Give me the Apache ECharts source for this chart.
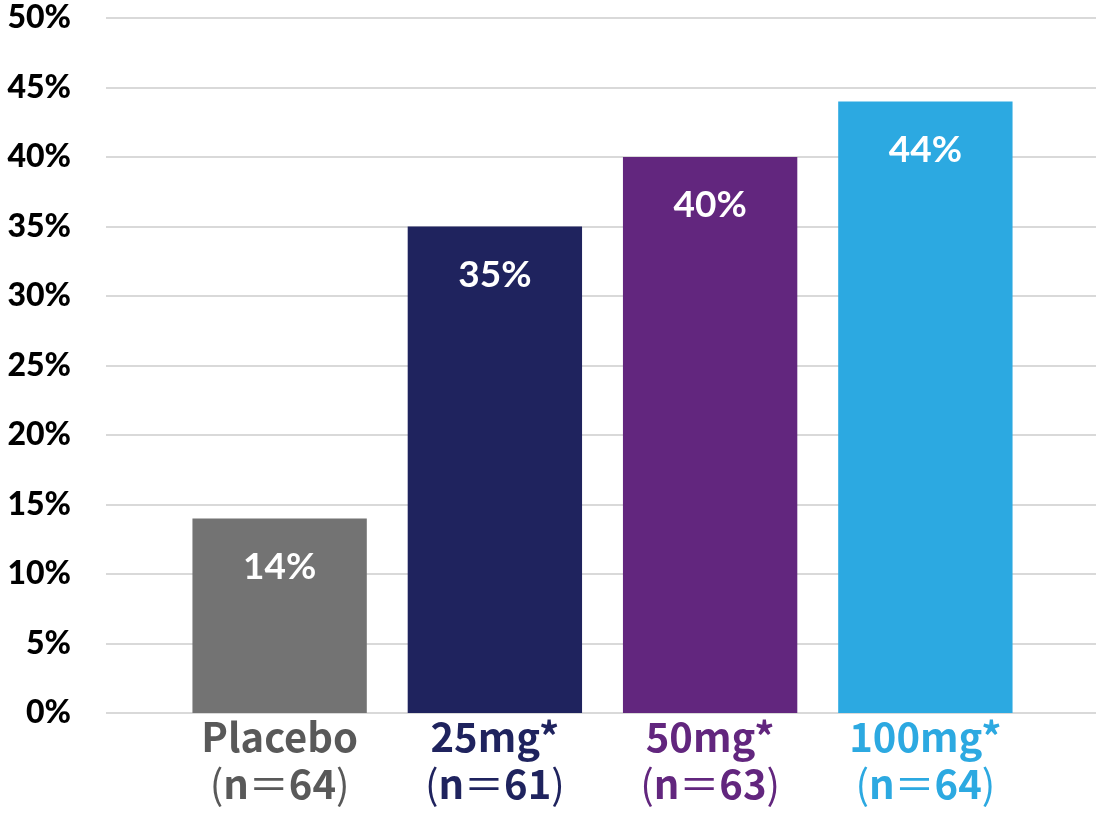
<!DOCTYPE html>
<html>
<head>
<meta charset="utf-8">
<script src="https://cdn.jsdelivr.net/npm/echarts@6/dist/echarts.min.js"></script>
<style>
  html, body { margin: 0; padding: 0; background: #fff; }
  #chart { width: 1096px; height: 813px; }
</style>
</head>
<body>
<div id="chart"></div>
<script>
// Dose groups and their response rates (%)
const groups = ['Placebo', '25mg*', '50mg*', '100mg*'];
const groupSizes = ['64', '61', '63', '64'];
const rates = [14, 35, 40, 44];
const barColors = ['#737373', '#1F235E', '#62267E', '#2CA9E1'];
const labelColors = ['#595959', '#1F235E', '#62267E', '#2CA9E1'];
const yTicks = { min: 0, max: 50, interval: 5 };

const chart = echarts.init(document.getElementById('chart'));

// Category label: bold name and count, lighter brackets and equals sign
const rich = {};
labelColors.forEach((c, i) => {
  rich['b' + i] = { color: c, fontFamily: 'Noto Sans CJK JP', fontWeight: 'bold', fontSize: 40, lineHeight: 47 };
  rich['p' + i] = { color: c, fontFamily: 'Noto Sans CJK JP', fontWeight: 'normal', fontSize: 40, lineHeight: 47 };
});
const labelFor = (name) => {
  const i = groups.indexOf(name);
  return `{b${i}|${name}}\n{p${i}|(}{b${i}|n}{p${i}|＝}{b${i}|${groupSizes[i]}}{p${i}|)}`;
};

chart.setOption({
  animation: false,
  grid: [
    { left: 106, right: 0, top: 18, bottom: 100 },
    { left: 172, right: 63, top: 18, bottom: 100 }
  ],
  xAxis: [
    { gridIndex: 0, type: 'value', show: false, min: 0, max: 1 },
    {
      gridIndex: 1, type: 'category', data: groups,
      axisLine: { show: false }, axisTick: { show: false },
      axisLabel: {
        interval: 0,
        margin: 0,
        formatter: labelFor,
        rich: rich
      }
    }
  ],
  yAxis: [
    {
      gridIndex: 0, type: 'value', min: yTicks.min, max: yTicks.max, interval: yTicks.interval,
      axisLine: { show: false }, axisTick: { show: false },
      splitLine: { lineStyle: { color: '#D9D9D9', width: 2 } },
      axisLabel: {
        margin: 35,
        formatter: '{value}%',
        fontFamily: 'Lato', fontWeight: 900, fontSize: 32, color: '#000'
      }
    },
    {
      gridIndex: 1, type: 'value', min: yTicks.min, max: yTicks.max, interval: yTicks.interval,
      show: false
    }
  ],
  series: [{
    type: 'bar',
    xAxisIndex: 1, yAxisIndex: 1,
    data: rates.map((v, i) => ({ value: v, itemStyle: { color: barColors[i] } })),
    barCategoryGap: '19%',
    label: {
      show: true, position: 'insideTop', distance: 30,
      formatter: '{c}%',
      fontFamily: 'Lato', fontWeight: 'bold', fontSize: 37, color: '#fff'
    }
  }]
});
</script>
</body>
</html>
